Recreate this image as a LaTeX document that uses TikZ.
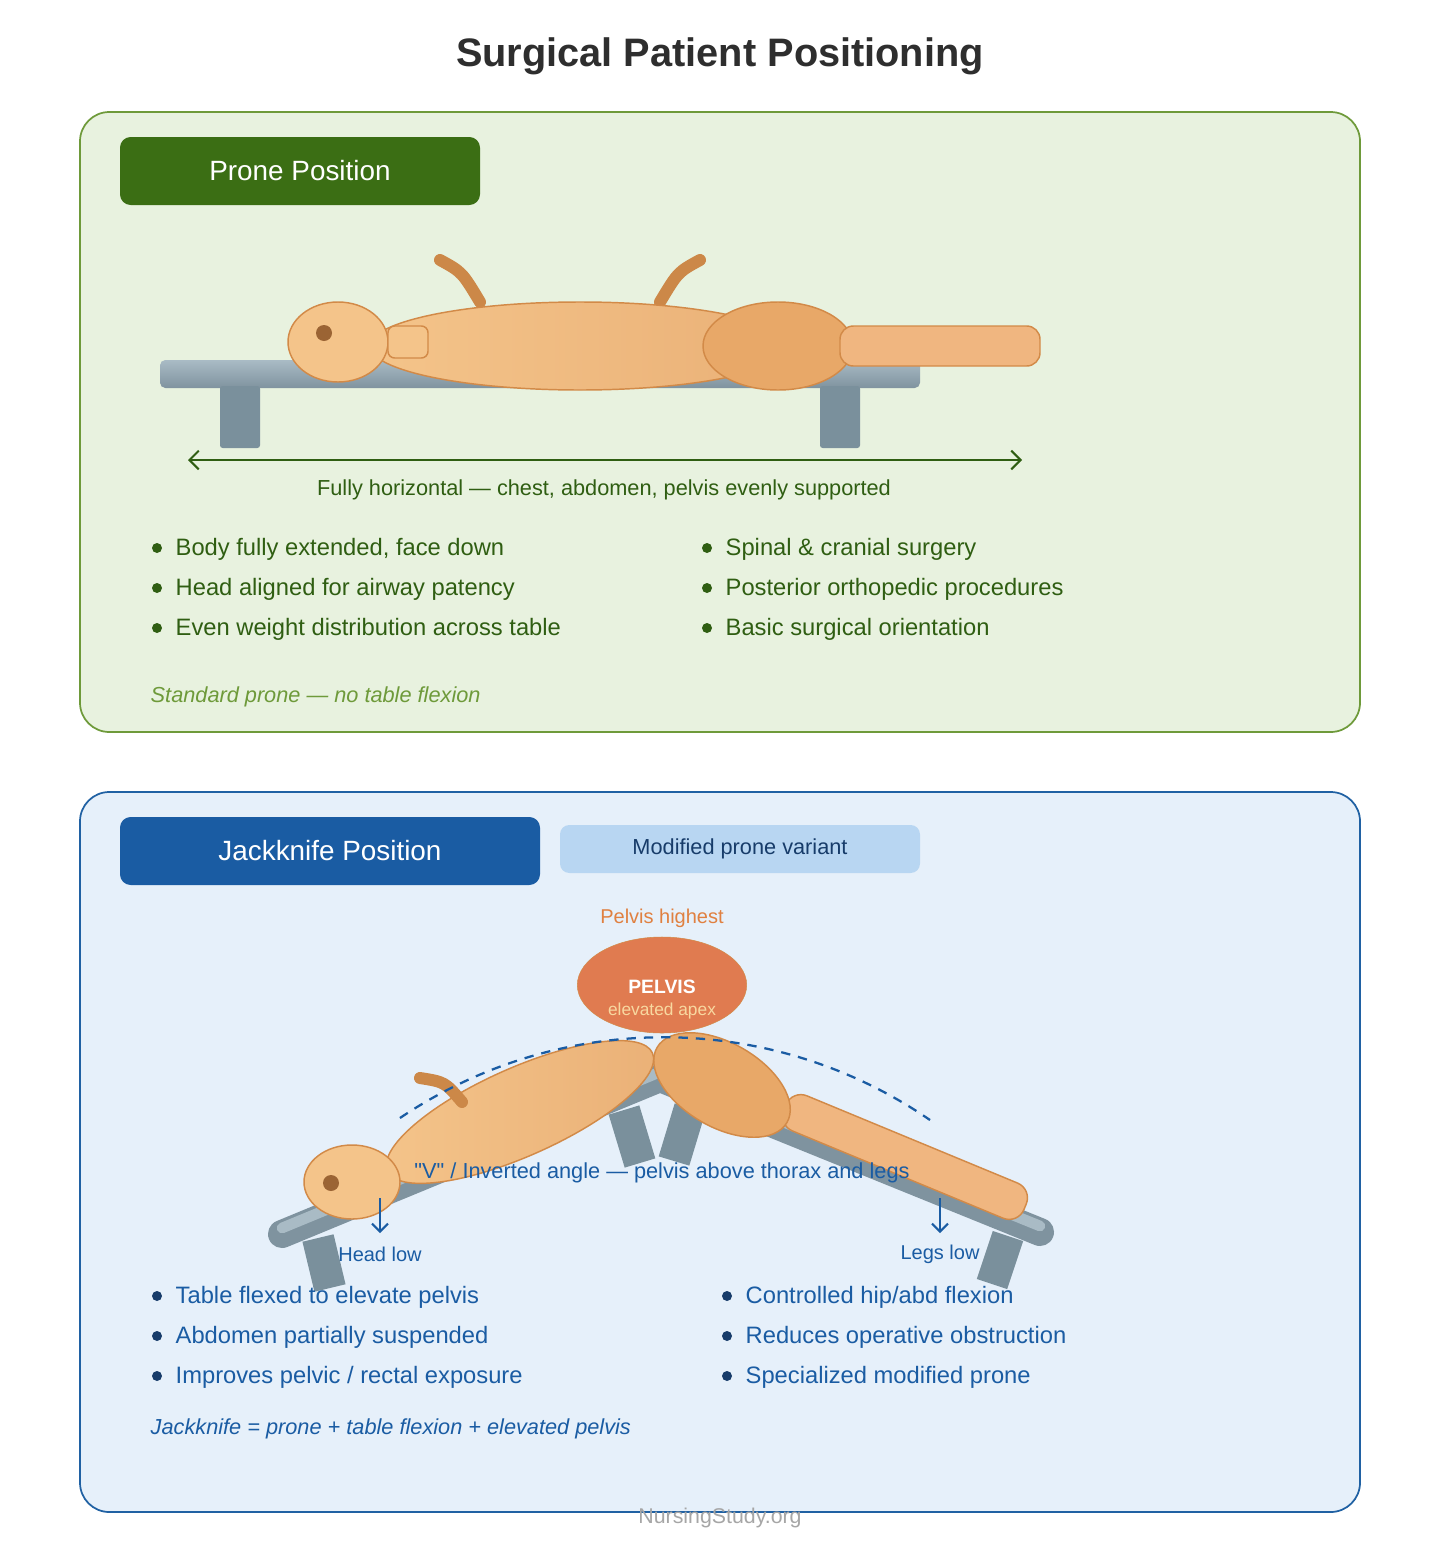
\documentclass[tikz,border=0pt]{standalone}
\usepackage{fontspec}
\setmainfont{Liberation Sans}
\newfontfamily\qfont{Liberation Sans}[Ligatures=ResetAll]
\usetikzlibrary{arrows.meta,shapes.geometric}
\begin{document}
\begin{tikzpicture}[x=0.75pt,y=-0.75pt,
  bul/.style={anchor=west,font=\fontsize{17.8}{20}\selectfont,text=#1},
  dot/.style={circle,fill=#1,inner sep=0pt,minimum size=7.5pt},
  leg/.style={line width=24pt,color=tleg},
  lab/.style={font=\fontsize{15}{17}\selectfont}]
\definecolor{gpan}{HTML}{E8F2DF}\definecolor{gline}{HTML}{6E9A3A}
\definecolor{ghead}{HTML}{3B6E14}\definecolor{gtext}{HTML}{2F5E12}
\definecolor{bpan}{HTML}{E6F0FA}\definecolor{bline}{HTML}{2061A3}
\definecolor{bhead}{HTML}{1A5CA3}\definecolor{btext}{HTML}{1A5CA3}
\definecolor{bsub}{HTML}{B8D6F2}\definecolor{bdark}{HTML}{173C6A}
\definecolor{skinA}{HTML}{F4C48A}\definecolor{skinB}{HTML}{E8A868}
\definecolor{skinC}{HTML}{F0B680}\definecolor{skinE}{HTML}{D28A48}
\definecolor{arm}{HTML}{CC8848}\definecolor{eye}{HTML}{9B6434}
\definecolor{tleg}{HTML}{7A909C}\definecolor{ttop}{HTML}{A9BBC5}\definecolor{tbot}{HTML}{7F939F}
\definecolor{pelv}{HTML}{E07B50}\definecolor{pelvt}{HTML}{E08040}\definecolor{apex}{HTML}{F8D8A0}
\useasboundingbox (0,0) rectangle (1440,1560);
\fill[white] (0,0) rectangle (1440,1560);
\node[font=\bfseries\fontsize{29.8}{34}\selectfont,text=black!82] (title) at (720,56) {Surgical Patient Positioning};
% ---------- Panel 1
\draw[fill=gpan,draw=gline,line width=1.3pt,rounded corners=22pt] (80,112) rectangle (1360,732);
\node[fill=ghead,rounded corners=8pt,minimum width=270pt,minimum height=51pt,text=white,font=\fontsize{20.9}{24}\selectfont] (h1) at (300,171) {Prone Position};
\shade[top color=ttop,bottom color=tbot,rounded corners=4pt] (160,360) rectangle (920,388);
\fill[tleg,rounded corners=2pt] (220,386) rectangle (260,448);
\fill[tleg,rounded corners=2pt] (820,386) rectangle (860,448);
\draw[arm,line width=9pt,line cap=round] (440,260) .. controls (462,272) .. (480,302);
\draw[arm,line width=9pt,line cap=round] (700,260) .. controls (678,272) .. (660,302);
\shade[left color=skinA,right color=skinB!90,draw=skinE,line width=1.1pt] (580,346) ellipse [x radius=210,y radius=44];
\draw[fill=skinB,draw=skinE,line width=1.1pt] (778,346) ellipse [x radius=75,y radius=44];
\draw[fill=skinC,draw=skinE,line width=1.1pt,rounded corners=10pt] (840,326) rectangle (1040,366);
\draw[fill=skinA,draw=skinE,line width=1.1pt] (338,342) ellipse [x radius=50,y radius=40];
\draw[fill=skinA,draw=skinE,line width=1.1pt,rounded corners=5pt] (388,326) rectangle (428,358);
\fill[eye] (324,333) circle (8);
\coordinate (a1) at (188,460); \coordinate (a2) at (1022,460);
\draw[gtext,line width=1.5pt,{Straight Barb[length=7pt]}-{Straight Barb[length=7pt]}] (a1) -- (a2);
\node[text=gtext,font=\fontsize{16.3}{18}\selectfont] (l1) at (604,490) {Fully horizontal — chest, abdomen, pelvis evenly supported};
\foreach \y in {548,588,628}{\node[dot=gtext] at (157,\y) {}; \node[dot=gtext] at (707,\y) {};}
\node[bul=gtext] at (171,549) {Body fully extended, face down};
\node[bul=gtext] at (171,589) {Head aligned for airway patency};
\node[bul=gtext] at (171,629) {Even weight distribution across table};
\node[bul=gtext] at (721,549) {Spinal \& cranial surgery};
\node[bul=gtext] at (721,589) {Posterior orthopedic procedures};
\node[bul=gtext] at (721,629) {Basic surgical orientation};
\node[anchor=west,text=gline,font=\itshape\fontsize{16.3}{18}\selectfont] (n1) at (146,697) {Standard prone — no table flexion};
% ---------- Panel 2
\draw[fill=bpan,draw=bline,line width=1.3pt,rounded corners=22pt] (80,792) rectangle (1360,1512);
\node[fill=bhead,rounded corners=8pt,minimum width=315pt,minimum height=51pt,text=white,font=\fontsize{20.9}{24}\selectfont] (h2) at (330,851) {Jackknife Position};
\node[fill=bsub,rounded corners=7pt,minimum width=270pt,minimum height=36pt,text=bdark,font=\fontsize{16.3}{18}\selectfont] (sub) at (740,849) {Modified prone variant};
\node[text=pelvt,font=\fontsize{15}{17}\selectfont] (ph) at (662,918) {Pelvis highest};
\node[ellipse,fill=pelv,draw=skinE,minimum width=127pt,minimum height=72pt,inner sep=0pt] (pel) at (662,985) {};
\node[text=white,font=\bfseries\fontsize{14.5}{16}\selectfont] (pl1) at (662,987) {PELVIS};
\node[text=apex,font=\fontsize{13}{15}\selectfont] (pl2) at (662,1011) {elevated apex};
% table
\draw[leg] (318,1238) -- (330,1288);
\draw[leg] (624,1110) -- (640,1163);
\draw[leg] (690,1108) -- (674,1161);
\draw[leg] (1008,1236) -- (992,1284);
\draw[tbot,line width=21pt,line cap=round] (282,1234) -- (660,1078) -- (1040,1232);
\draw[ttop,line width=8pt,line cap=round] (282,1228) -- (660,1072) -- (1040,1226);
% body
\draw[fill=skinC,draw=skinE,line width=1.1pt,rounded corners=12pt,rotate around={-22.5:(905,1157)}] (775,1138) rectangle (1035,1176);
\draw[fill=skinB,draw=skinE,line width=1.1pt,rotate around={-30:(722,1085)}] (722,1085) ellipse [x radius=75,y radius=42];
\shade[left color=skinA,right color=skinB!90,draw=skinE,line width=1.1pt,rotate around={24:(520,1112)}] (520,1112) ellipse [x radius=145,y radius=44];
\draw[arm,line width=9pt,line cap=round] (420,1078) .. controls (445,1082) .. (462,1102);
\draw[fill=skinA,draw=skinE,line width=1.1pt] (352,1182) ellipse [x radius=48,y radius=37];
\fill[eye] (331,1183) circle (8);
\draw[bhead,line width=1.7pt,dash pattern=on 7pt off 6pt] (400,1118) .. controls (560,1010) and (770,1010) .. (930,1120);
\node[text=btext,font=\fontsize{16.3}{18}\selectfont] (vl) at (662,1173) {{\qfont"V"} / Inverted angle — pelvis above thorax and legs};
\coordinate (ha) at (380,1198); \coordinate (hb) at (380,1233);
\coordinate (la) at (940,1198); \coordinate (lb) at (940,1233);
\draw[bhead,line width=1.5pt,-{Straight Barb[length=6pt]}] (ha) -- (hb);
\draw[bhead,line width=1.5pt,-{Straight Barb[length=6pt]}] (la) -- (lb);
\node[text=btext,lab] (hl) at (380,1254) {Head low};
\node[text=btext,lab] (ll) at (940,1254) {Legs low};
\foreach \y in {1296,1336,1376}{\node[dot=bdark] at (157,\y) {}; \node[dot=bdark] at (727,\y) {};}
\node[bul=btext] at (171,1297) {Table flexed to elevate pelvis};
\node[bul=btext] at (171,1337) {Abdomen partially suspended};
\node[bul=btext] at (171,1377) {Improves pelvic / rectal exposure};
\node[bul=btext] at (741,1297) {Controlled hip/abd flexion};
\node[bul=btext] at (741,1337) {Reduces operative obstruction};
\node[bul=btext] at (741,1377) {Specialized modified prone};
\node[anchor=west,text=btext,font=\itshape\fontsize{16.3}{18}\selectfont] (n2) at (146,1429) {Jackknife = prone + table flexion + elevated pelvis};
\node[text=black!35,font=\fontsize{16}{18}\selectfont] (ft) at (720,1518) {NursingStudy.org};
\end{tikzpicture}
\end{document}
